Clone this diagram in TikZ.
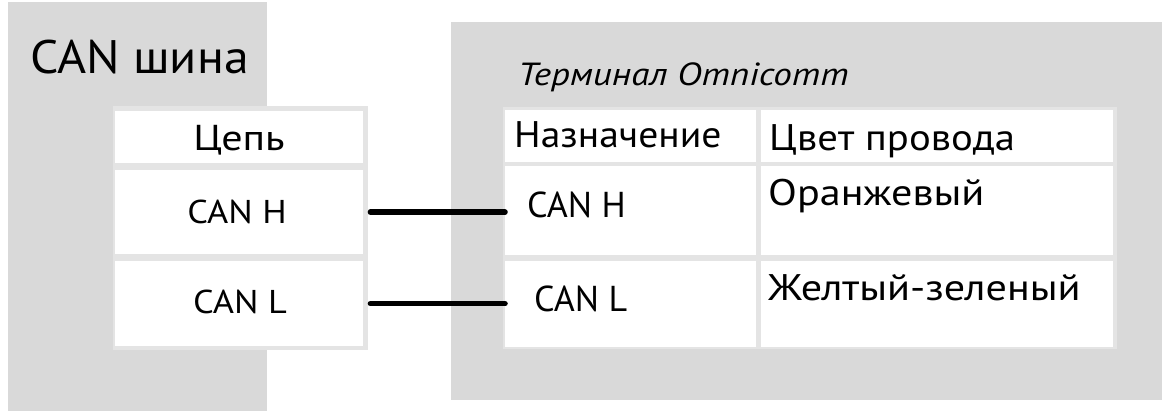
\documentclass[tikz,border=0pt]{standalone}
\usepackage{fontspec}
\setmainfont{PT Sans}
\definecolor{panel}{HTML}{D9D9D9}
\definecolor{grid}{HTML}{E4E4E4}
\newcommand{\sx}[2]{\scalebox{#1}[1]{#2}}
\begin{document}
\begin{tikzpicture}[x=1pt,y=-1pt,
  cell/.style={fill=white, draw=none, inner sep=0pt, anchor=north west},
  txt/.style={inner sep=0pt, anchor=base west},
  ctxt/.style={inner sep=0pt, anchor=base},
  wire/.style={line width=5.5pt, line cap=round}]
\useasboundingbox (0,0) rectangle (1166,413);
% panels
\fill[panel] (8,2) rectangle (267,411);
\fill[panel] (451,22) rectangle (1162,400);
% table backdrops
\fill[grid] (113,106) rectangle (368,350);
\fill[grid] (503,107) rectangle (1117,349);
% left cells
\node[cell, minimum width=248pt, minimum height=52pt] (lhead) at (115,111) {};
\node[cell, minimum width=248pt, minimum height=84pt] (lh) at (115,170) {};
\node[cell, minimum width=248pt, minimum height=85pt] (ll) at (115,261) {};
% right cells
\node[cell, minimum width=251pt, minimum height=52pt] (rhead1) at (505,110) {};
\node[cell, minimum width=352pt, minimum height=52pt] (rhead2) at (761,110) {};
\node[cell, minimum width=251pt, minimum height=89pt] (rh) at (505,166) {};
\node[cell, minimum width=352pt, minimum height=89pt] (rhc) at (761,166) {};
\node[cell, minimum width=251pt, minimum height=86pt] (rl) at (505,261) {};
\node[cell, minimum width=352pt, minimum height=86pt] (rlc) at (761,261) {};
% texts
\node[txt, font=\fontsize{47}{50}\selectfont] (t1) at (30,73) {\sx{1.06}{CAN шина}};
\node[ctxt, font=\fontsize{36}{40}\selectfont] (t2) at (239,150) {\sx{1.17}{Цепь}};
\node[ctxt, font=\fontsize{33}{38}\selectfont] (t3) at (237,223) {\sx{1.10}{CAN H}};
\node[ctxt, font=\fontsize{33}{38}\selectfont] (t4) at (240,313) {\sx{1.10}{CAN L}};
\node[txt, font=\fontsize{32}{38}\itshape] (t5) at (518,85) {\sx{1.16}{Терминал Omnicomm}};
\node[txt, font=\fontsize{37}{40}\selectfont] (t6) at (514,147) {\sx{1.07}{Назначение}};
\node[txt, font=\fontsize{37}{40}\selectfont] (t7) at (769,150) {\sx{1.10}{Цвет провода}};
\node[txt, font=\fontsize{36}{40}\selectfont] (t8) at (527,217) {CAN H};
\node[txt, font=\fontsize{37}{40}\selectfont] (t9) at (768,205) {\sx{1.14}{Оранжевый}};
\node[txt, font=\fontsize{36}{40}\selectfont] (t10) at (534,311) {CAN L};
\node[txt, font=\fontsize{37}{40}\selectfont] (t11) at (768,300) {\sx{1.14}{Желтый-зеленый}};
% wires
\draw[wire] ([xshift=7pt]lh.east) -- (lh.east -| rh.west);
\draw[wire] ([xshift=7pt]ll.east) -- (ll.east -| rl.west);
\end{tikzpicture}
\end{document}
